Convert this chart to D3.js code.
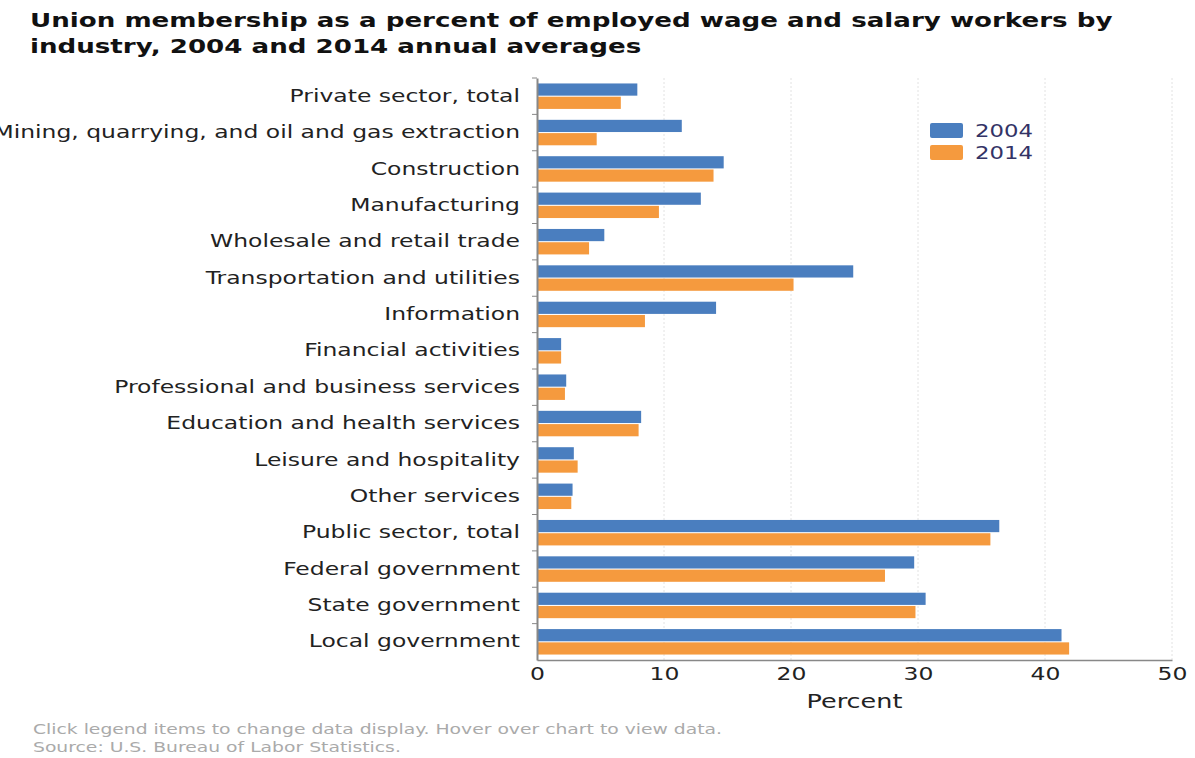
<!DOCTYPE html>
<html>
<head>
<meta charset="utf-8">
<script src="https://cdn.jsdelivr.net/npm/d3@7"></script>
<style>
  body { margin: 0; background: #fff; overflow: hidden; }
  svg { display: block; font-family: "DejaVu Sans", Verdana, sans-serif; }
</style>
</head>
<body>
<script>
// union membership by industry, 2004 vs 2014

var industries = ["Private sector, total", "Mining, quarrying, and oil and gas extraction", "Construction",
  "Manufacturing", "Wholesale and retail trade", "Transportation and utilities", "Information",
  "Financial activities", "Professional and business services", "Education and health services",
  "Leisure and hospitality", "Other services", "Public sector, total", "Federal government",
  "State government", "Local government"];
var years = ["2004", "2014"];
var values2004 = [7.9, 11.4, 14.7, 12.9, 5.3, 24.9, 14.1, 1.9, 2.3, 8.2, 2.9, 2.8, 36.4, 29.7, 30.6, 41.3];
var values2014 = [6.6, 4.7, 13.9, 9.6, 4.1, 20.2, 8.5, 1.9, 2.2, 8.0, 3.2, 2.7, 35.7, 27.4, 29.8, 41.9];
var xTicks = [0, 10, 20, 30, 40, 50];
var colors = ["#4a7ebf", "#f59a3e"];

var width = 1195, height = 758;
var margin = { left: 537, right: 23, top: 78, bottom: 98 };
var sx = 1.34; // the reference text is wide, stretch it horizontally

var svg = d3.select("body").append("svg").attr("width", width).attr("height", height);

// stretch text around its own x anchor
function stretch(sel) {
  sel.each(function () {
    var t = d3.select(this);
    var ax = +(t.attr("x") || 0);
    t.attr("transform", "translate(" + ax + ",0) scale(" + sx + ",1) translate(" + (-ax) + ",0)");
  });
}

var rows = industries.map(function (d, i) {
  return { name: d, vals: [values2004[i], values2014[i]] };
});

var x = d3.scaleLinear().domain([0, 50]).range([margin.left, width - margin.right]);
var y = d3.scaleBand().domain(industries).range([margin.top, height - margin.bottom]).paddingInner(0.3).paddingOuter(0.15);
var yInner = d3.scaleBand().domain(years).range([0, y.bandwidth()]).paddingInner(0.08);

// title
svg.append("text").attr("x", 30).attr("y", 27)
  .attr("font-size", 19.5).attr("font-weight", "bold").attr("fill", "#111")
  .text("Union membership as a percent of employed wage and salary workers by")
  .call(stretch);
svg.append("text").attr("x", 30).attr("y", 53)
  .attr("font-size", 19.5).attr("font-weight", "bold").attr("fill", "#111")
  .text("industry, 2004 and 2014 annual averages")
  .call(stretch);

// grid
svg.append("g").selectAll("line.grid")
  .data(xTicks.slice(1))
  .enter().append("line")
  .attr("class", "grid")
  .attr("x1", function (d) { return x(d); })
  .attr("x2", function (d) { return x(d); })
  .attr("y1", margin.top)
  .attr("y2", height - margin.bottom)
  .attr("stroke", "#e2e2e2")
  .attr("stroke-dasharray", "2,2");

// bars
var groups = svg.append("g").selectAll("g.row")
  .data(rows)
  .enter().append("g")
  .attr("class", "row")
  .attr("transform", function (d) { return "translate(0," + y(d.name) + ")"; });

groups.selectAll("rect")
  .data(function (d) { return d.vals; })
  .enter().append("rect")
  .attr("x", x(0))
  .attr("y", function (d, i) { return yInner(years[i]); })
  .attr("width", function (d) { return x(d) - x(0); })
  .attr("height", yInner.bandwidth())
  .attr("fill", function (d, i) { return colors[i]; });

// y axis
var yAxis = svg.append("g")
  .attr("transform", "translate(" + x(0) + ",0)")
  .call(d3.axisLeft(y).tickSize(0).tickPadding(17));
yAxis.select(".domain").attr("stroke", "#888").attr("stroke-width", 2);
yAxis.selectAll("text").attr("font-size", 17.5).attr("fill", "#222").attr("font-family", "DejaVu Sans").call(stretch);

// small ticks between categories
svg.append("g").selectAll("line.sep")
  .data(industries)
  .enter().append("line")
  .attr("class", "sep")
  .attr("x1", x(0) - 5).attr("x2", x(0))
  .attr("y1", function (d) { return y(d) - y.step() * y.paddingInner() / 2; })
  .attr("y2", function (d) { return y(d) - y.step() * y.paddingInner() / 2; })
  .attr("stroke", "#888");

// x axis
var xAxis = svg.append("g")
  .attr("transform", "translate(0," + (height - margin.bottom) + ")")
  .call(d3.axisBottom(x).tickValues(xTicks).tickSize(0).tickPadding(8));
xAxis.select(".domain").attr("stroke", "#888").attr("stroke-width", 1.5);
xAxis.selectAll("text").attr("font-size", 17.5).attr("fill", "#222").attr("font-family", "DejaVu Sans").call(stretch);

svg.append("text")
  .attr("x", (x(0) + x(50)) / 2).attr("y", height - margin.bottom + 48)
  .attr("text-anchor", "middle").attr("font-size", 19).attr("fill", "#222")
  .text("Percent")
  .call(stretch);

// legend
var legend = svg.append("g").attr("transform", "translate(930,123)");
legend.selectAll("rect")
  .data(years)
  .enter().append("rect")
  .attr("x", 0)
  .attr("y", function (d, i) { return i * 22; })
  .attr("width", 33).attr("height", 15).attr("rx", 2)
  .attr("fill", function (d, i) { return colors[i]; });
legend.selectAll("text")
  .data(years)
  .enter().append("text")
  .attr("x", 45)
  .attr("y", function (d, i) { return i * 22 + 14; })
  .attr("font-size", 17).attr("fill", "#333366")
  .text(function (d) { return d; })
  .call(stretch);

// footer
svg.append("text").attr("x", 33).attr("y", 734)
  .attr("font-size", 14).attr("fill", "#aaa")
  .text("Click legend items to change data display. Hover over chart to view data.")
  .call(stretch);
svg.append("text").attr("x", 33).attr("y", 752)
  .attr("font-size", 14).attr("fill", "#aaa")
  .text("Source: U.S. Bureau of Labor Statistics.")
  .call(stretch);
</script>
</body>
</html>
